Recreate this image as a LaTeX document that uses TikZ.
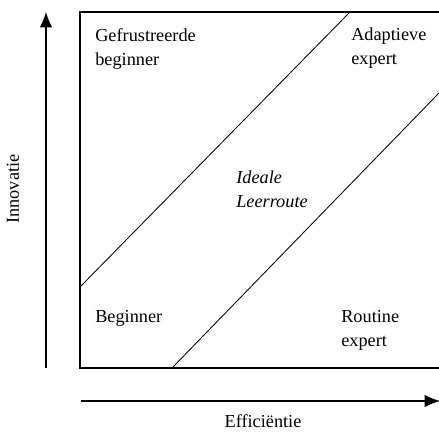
\documentclass[tikz,border=0pt]{standalone}
\usepackage{fontspec}
\setmainfont{Liberation Serif}
\usetikzlibrary{arrows.meta}

\begin{document}
\begin{tikzpicture}[x=0.025cm, y=0.025cm,
    quadtext/.style={inner sep=0pt, align=left, anchor=north west,
                     font=\fontsize{13}{17}\selectfont},
    axis/.style={line width=0.9pt, -{Latex[length=11pt, width=9pt]}}]
\useasboundingbox (0,0) rectangle (439,432);

% draw the frame (open on the right)
\draw[line width=1pt] (439,420) -- (80,420) -- (80,64) -- (439,64);

% draw the two diagonals
\draw[line width=0.6pt] (80,145) -- (350,420);
\draw[line width=0.6pt] (172,64) -- (439,339);

% draw the axes
\coordinate (ylow) at (46,64);
\coordinate (yhigh) at (46,420);
\coordinate (xlow) at (81,31);
\coordinate (xhigh) at (440,31);
\draw[axis] (ylow) -- (yhigh);
\draw[axis] (xlow) -- (xhigh);

% draw the quadrant labels
\node[quadtext] (gefrus) at (95,404) {Gefrustreerde\\beginner};
\node[quadtext] (adapt) at (351,404) {Adaptieve\\expert};
\node[quadtext, font=\fontsize{13}{17}\selectfont\itshape] (ideaal) at (236,261) {Ideale\\Leerroute};
\node[quadtext] (begin) at (95,122) {Beginner};
\node[quadtext] (routine) at (341,122) {Routine\\expert};

% draw the axis names
\node[inner sep=0pt, anchor=base, font=\fontsize{13}{17}\selectfont] (effic) at (263,4) {Efficiëntie};
\node[inner sep=0pt, anchor=base, rotate=90, font=\fontsize{13}{17}\selectfont] (innov) at (19,243) {Innovatie};

\end{tikzpicture}
\end{document}
